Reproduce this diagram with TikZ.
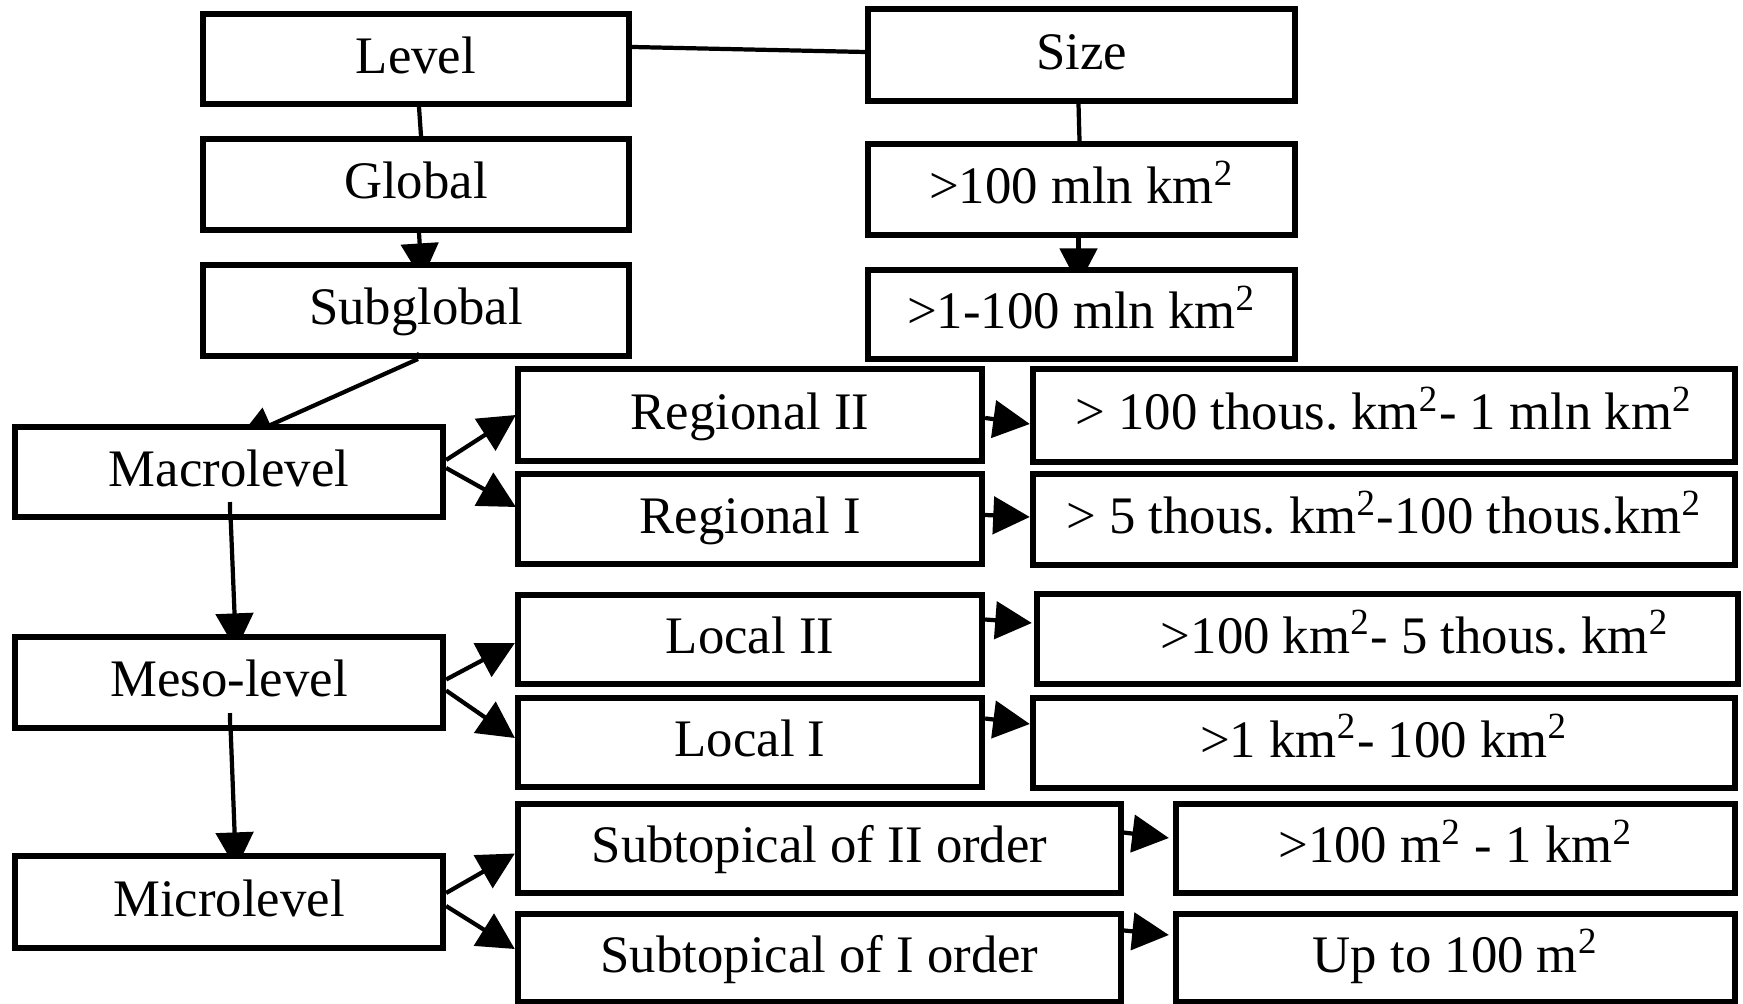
\documentclass[tikz,border=0pt]{standalone}
\usepackage{fontspec}
\setmainfont{Liberation Serif}
\usetikzlibrary{arrows.meta,calc}
\pgfdeclarelayer{bg}
\pgfsetlayers{bg,main}
\newcommand\sq{\textsuperscript{2}}
\frenchspacing
\begin{document}
\begin{tikzpicture}[x=0.01cm,y=-0.01cm,
  box/.style={draw, line width=1.7pt, fill=white, inner sep=0pt,
    text height=10pt, text depth=2pt,
    font=\fontsize{15pt}{18pt}\selectfont},
  conn/.style={line width=1.2pt},
  arr/.style={conn, -{Triangle[length=10.4pt,width=10.6pt]}}]
\useasboundingbox (0,0) rectangle (1743,1004);
% top left column
\node[box, minimum width=4.26cm, minimum height=0.90cm] (Level) at (416,59) {Level};
\node[box, minimum width=4.26cm, minimum height=0.91cm] (Global) at (416,184.5) {Global};
\node[box, minimum width=4.26cm, minimum height=0.91cm] (Subglobal) at (416,310.5) {Subglobal};
% size column
\node[box, minimum width=4.27cm, minimum height=0.92cm] (Size) at (1081.5,55) {Size};
\node[box, minimum width=4.27cm, minimum height=0.91cm] (M100) at (1081.5,189.5) {>100 mln km\sq};
\node[box, minimum width=4.27cm, minimum height=0.89cm] (M1) at (1081.5,314.5) {>1-100 mln km\sq};
% level boxes
\node[box, minimum width=4.28cm, minimum height=0.90cm] (Macro) at (229,472) {Macrolevel};
\node[box, minimum width=4.28cm, minimum height=0.91cm] (Meso) at (229,682.5) {Meso-level};
\node[box, minimum width=4.28cm, minimum height=0.92cm] (Micro) at (229,902) {Microlevel};
% middle boxes
\node[box, minimum width=4.64cm, minimum height=0.92cm] (RegII) at (750,415) {Regional II};
\node[box, minimum width=4.64cm, minimum height=0.90cm] (RegI) at (750,519) {Regional I};
\node[box, minimum width=4.64cm, minimum height=0.89cm] (LocII) at (750,639.5) {Local II};
\node[box, minimum width=4.64cm, minimum height=0.89cm] (LocI) at (750,742.5) {Local I};
\node[box, minimum width=6.03cm, minimum height=0.89cm] (SubII) at (819.5,848.5) {Subtopical of II order};
\node[box, minimum width=6.03cm, minimum height=0.88cm] (SubI) at (819.5,958) {Subtopical of I order};
% right boxes
\node[box, minimum width=7.02cm, minimum height=0.93cm] (T1) at (1384,415.5) {> 100 thous. km\sq- 1 mln km\sq};
\node[box, minimum width=7.02cm, minimum height=0.91cm] (T2) at (1384,519.5) {> 5 thous. km\sq-100 thous.km\sq};
\node[box, minimum width=7.01cm, minimum height=0.90cm] (T3) at (1387.5,639) {\hspace*{0.55cm}>100 km\sq- 5 thous. km\sq};
\node[box, minimum width=7.02cm, minimum height=0.90cm] (T4) at (1384,743) {>1 km\sq- 100 km\sq};
\node[box, minimum width=5.59cm, minimum height=0.89cm] (T5) at (1455.5,848.5) {>100 m\sq{} - 1 km\sq};
\node[box, minimum width=5.59cm, minimum height=0.88cm] (T6) at (1455.5,958) {Up to 100 m\sq};
% connectors partly hidden behind boxes
\begin{pgfonlayer}{bg}
\draw[conn] ($(Level.south)+(3,0)$) -- ($(Global.north)+(5,0)$);
\draw[arr] ($(Global.south)+(3,0)$) -- ($(Subglobal.north)+(6,18)$);
\draw[conn] ($(Size.south)+(-3,0)$) -- ($(M100.north)+(-2,0)$);
\draw[arr] ($(M100.south)+(-3,0)$) -- ($(M1.north)+(-3,18)$);
\draw[arr] ($(Subglobal.south)+(2,0)$) -- ($(Macro.north)+(8,16)$);
\draw[arr] ($(Macro.south)+(1,-18)$) -- ($(Meso.north)+(7,16)$);
\draw[arr] ($(Meso.south)+(1,-18)$) -- ($(Micro.north)+(7,16)$);
\end{pgfonlayer}
% visible parts inside boxes
\draw[conn] ($(Macro.south)+(1,-18)$) -- ($(Macro.south)+(1.2,0)$);
\draw[conn] ($(Meso.south)+(1,-18)$) -- ($(Meso.south)+(1.2,0)$);
\fill ($(Subglobal.south)+(-6,-1)$) -- ($(Subglobal.south)+(2,-7)$) -- ($(Subglobal.south)+(7,-2)$) -- cycle;
% top connector
\draw[conn] ($(Level.east)+(0,-12)$) -- ($(Size.west)+(0,-3)$);
% fan arrows
\draw[arr] ($(Macro.east)+(0,-12)$) -- ($(RegII.west)+(1,0)$);
\draw[arr] ($(Macro.east)+(0,-4)$) -- ($(RegI.west)+(1,-12)$);
\draw[arr] ($(Meso.east)+(0,-3)$) -- ($(LocII.west)+(0,3.5)$);
\draw[arr] ($(Meso.east)+(0,8)$) -- ($(LocI.west)+(0,-4.5)$);
\draw[arr] ($(Micro.east)+(0,-9)$) -- ($(SubII.west)+(0,5)$);
\draw[arr] ($(Micro.east)+(0,4)$) -- ($(SubI.west)+(0,-9)$);
% right arrows
\draw[arr] ($(RegII.east)+(0,3)$) -- ($(T1.west)+(0,8.5)$);
\draw[arr] ($(RegI.east)+(0,-4)$) -- ($(T2.west)+(0,-2.5)$);
\draw[arr] ($(LocII.east)+(0,-20)$) -- ($(T3.west)+(-2,-16)$);
\draw[arr] ($(LocI.east)+(0,-24)$) -- ($(T4.west)+(0,-19)$);
\draw[arr] ($(SubII.east)+(-5,-16.5)$) -- ($(T5.west)+(-4,-10.5)$);
\draw[arr] ($(SubI.east)+(-5,-28)$) -- ($(T6.west)+(-4,-23)$);
\end{tikzpicture}
\end{document}
